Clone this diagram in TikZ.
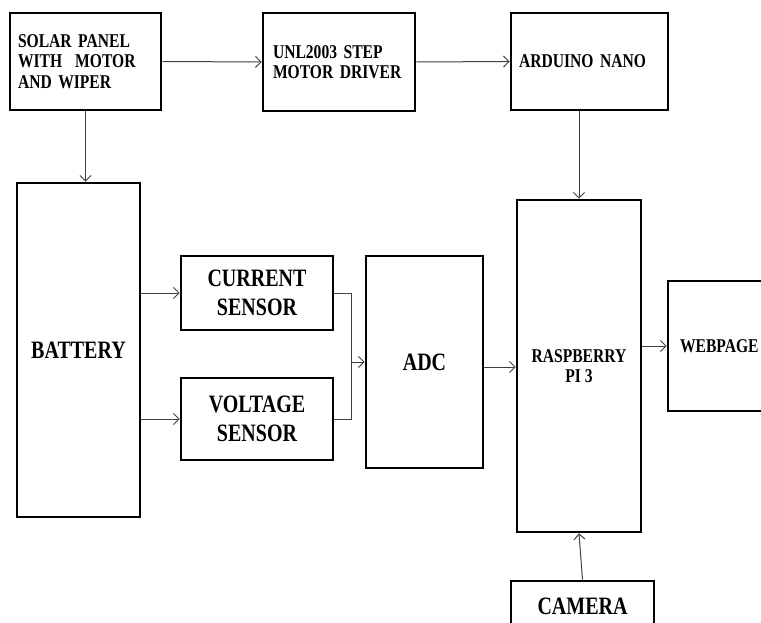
\documentclass[tikz,border=0pt]{standalone}
\usepackage{fontspec}
\setmainfont{Liberation Serif}[FakeStretch=0.8]
\usetikzlibrary{arrows.meta,calc}
\newcommand\smallf{\fontsize{19.5pt}{20.5pt}\selectfont\bfseries}
\newcommand\bigf{\fontsize{25pt}{29pt}\selectfont\bfseries}
\tikzset{
  blk/.style={draw, line width=2.6pt, inner sep=0pt},
  lbox/.style={blk, font=\smallf, align=left},
  sbox/.style={blk, font=\smallf, align=center},
  bbox/.style={blk, font=\bigf, align=center},
  arr/.style={line width=1pt, draw=black!75, -{Straight Barb[length=5.5pt,width=11pt,line width=1pt]}},
  ln/.style={line width=1pt, draw=black!75},
}
\begin{document}
\begin{tikzpicture}[x=1pt,y=-1pt]
\clip (0,0) rectangle (761,623);
\fill[white] (0,0) rectangle (761,623);
% top row
\node[lbox, text width=135pt, inner xsep=8pt, minimum height=97pt] (solar) at (85.5,61.5)
  {SOLAR PANEL\\WITH\ \ MOTOR\\AND WIPER};
\node[lbox, text width=132pt, inner xsep=10pt, minimum height=98pt] (unl) at (339,62)
  {UNL2003 STEP\\MOTOR DRIVER};
\node[lbox, text width=141pt, inner xsep=8pt, minimum height=97pt] (ard) at (589.5,61.5)
  {ARDUINO NANO};
% battery and sensors
\node[bbox, minimum width=123pt, minimum height=334pt] (bat) at (78.5,350) {BATTERY};
\node[bbox, minimum width=152pt, minimum height=74pt] (cur) at (257,293) {CURRENT\\SENSOR};
\node[bbox, minimum width=152pt, minimum height=82pt] (volt) at (257,419) {VOLTAGE\\SENSOR};
\node[bbox, minimum width=117pt, minimum height=212pt] (adc) at (424.5,362) {ADC};
\node[sbox, minimum width=124pt, minimum height=332pt] (rpi) at (579,366) {RASPBERRY\\PI 3};
\node[lbox, text width=88pt, inner xsep=12pt, minimum height=130pt] (web) at (724,346) {WEBPAGE};
\node[bbox, minimum width=143pt, minimum height=51pt] (cam) at (582.5,606.5) {CAMERA};
% connectors
\draw[arr] (solar.east) -- (unl.west);
\draw[arr] (unl.east) -- (ard.west);
\draw[arr] (solar.south) -- (solar.south |- bat.north);
\draw[arr] (ard.south -| rpi.north) -- (rpi.north);
\draw[arr] (cur.west -| bat.east) -- (cur.west);
\draw[arr] (volt.west -| bat.east) -- (volt.west);
\coordinate (j) at ($(adc.west)+(-13,0)$);
\draw[ln] (cur.east) -| (j);
\draw[ln] (volt.east) -| (j);
\draw[arr] (j) -- (adc.west);
\draw[arr] ($(adc.east)+(0,5)$) -- ($(adc.east -| rpi.west)+(0,5)$);
\draw[arr] (web.west -| rpi.east) -- (web.west);
\draw[arr] (cam.north) -- (rpi.south);
\end{tikzpicture}
\end{document}
